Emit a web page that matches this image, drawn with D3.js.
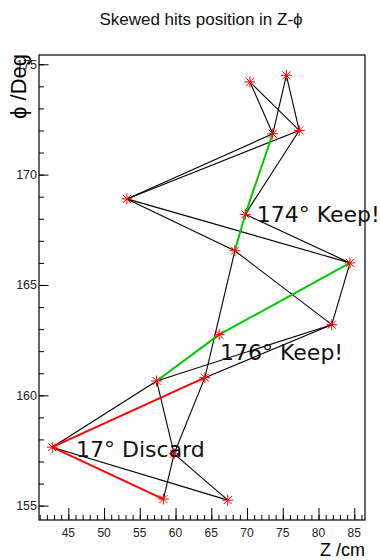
<!DOCTYPE html>
<html>
<head>
<meta charset="utf-8">
<script src="https://cdn.jsdelivr.net/npm/d3@7"></script>
<style>
  body { margin: 0; background: #fff; }
  text { font-family: "Liberation Sans", Arial, sans-serif; }
  .note { font-family: "DejaVu Sans", sans-serif; }
</style>
</head>
<body>
<div id="chart"></div>
<script>
// Hit positions (Z in cm, phi in degrees)
var zHits   = [70.4, 75.5, 73.6, 77.3, 69.75, 53.2, 68.3, 84.4, 81.85, 66.1, 64.1, 57.35, 42.75, 59.8, 58.3, 67.3];
var phiHits = [174.2, 174.5, 171.85, 172.0, 168.2, 168.9, 166.55, 166.0, 163.2, 162.75, 160.8, 160.65, 157.65, 157.35, 155.3, 155.25];

// which hits are joined (index pairs into the arrays above)
var otherPairs = [[0, 2], [0, 3], [1, 2], [1, 3], [2, 5], [3, 5], [3, 4], [4, 7], [5, 7], [5, 6],
                  [6, 8], [6, 10], [7, 8], [8, 10], [8, 11], [11, 12], [11, 13], [10, 13],
                  [13, 14], [13, 15], [12, 15]];
var keepPairs = [[2, 4], [4, 6], [7, 9], [9, 11]];
var discardPairs = [[10, 12], [12, 14]];

// angle notes
var noteText = ['174\u00b0 Keep!', '176\u00b0 Keep!', '17\u00b0 Discard'];
var noteZ    = [71.35, 66.22, 46.08];
var notePhi  = [167.87, 161.6, 157.22];

var xMajor = [45, 50, 55, 60, 65, 70, 75, 80, 85];
var yMajor = [155, 160, 165, 170, 175];

// Constants for sizing
var width = 380;
var height = 560;
var frame = { left: 39, right: 365, top: 55, bottom: 520 };

var x = d3.scaleLinear().domain([40.9, 86.5]).range([frame.left, frame.right]);
var y = d3.scaleLinear().domain([154.35, 175.42]).range([frame.bottom, frame.top]);

var svg = d3.select('#chart')
  .append('svg')
  .attr('width', width)
  .attr('height', height);

// title
svg.append('text')
  .attr('x', 201)
  .attr('y', 25)
  .attr('text-anchor', 'middle')
  .attr('font-size', 17)
  .attr('fill', '#111')
  .text('Skewed hits position in Z-\u03d5');

// axes, ticks drawn inward like ROOT does
var xAxis = d3.axisTop(x)
  .tickValues(d3.range(41, 87))
  .tickSize(5)
  .tickFormat('');
svg.append('g')
  .attr('transform', 'translate(0,' + frame.bottom + ')')
  .call(xAxis);

svg.append('g')
  .attr('transform', 'translate(0,' + frame.bottom + ')')
  .call(d3.axisTop(x).tickValues(xMajor).tickSize(12).tickFormat(''));

svg.append('g')
  .attr('transform', 'translate(' + frame.left + ',0)')
  .call(d3.axisRight(y).tickValues(d3.range(155, 176)).tickSize(5).tickFormat(''));

svg.append('g')
  .attr('transform', 'translate(' + frame.left + ',0)')
  .call(d3.axisRight(y).tickValues(yMajor).tickSize(9.5).tickFormat(''));

svg.selectAll('.domain').remove();
svg.selectAll('.tick line').attr('stroke', '#000');

// frame
svg.append('rect')
  .attr('x', frame.left)
  .attr('y', frame.top)
  .attr('width', frame.right - frame.left)
  .attr('height', frame.bottom - frame.top)
  .attr('fill', 'none')
  .attr('stroke', '#000')
  .attr('stroke-width', 1.2);

// tick labels
svg.selectAll('.xlab')
  .data(xMajor)
  .enter().append('text')
  .attr('class', 'xlab')
  .attr('x', function (d) { return x(d); })
  .attr('y', 537)
  .attr('text-anchor', 'middle')
  .attr('font-size', 12)
  .attr('fill', '#222')
  .text(function (d) { return d; });

svg.selectAll('.ylab')
  .data(yMajor)
  .enter().append('text')
  .attr('class', 'ylab')
  .attr('x', 37)
  .attr('y', function (d) { return y(d) + 4.5; })
  .attr('text-anchor', 'end')
  .attr('font-size', 12.5)
  .attr('fill', '#222')
  .text(function (d) { return d; });

// axis titles
svg.append('text')
  .attr('x', frame.right)
  .attr('y', 555.5)
  .attr('text-anchor', 'end')
  .attr('font-size', 18)
  .text('Z /cm');

svg.append('text')
  .attr('transform', 'translate(26,54) rotate(-90)')
  .attr('text-anchor', 'end')
  .attr('font-size', 22)
  .text('\u03d5 /Deg');

// segments between hits
function drawPairs(pairs, color, w) {
  svg.append('g').selectAll('line')
    .data(pairs)
    .enter().append('line')
    .attr('x1', function (d) { return x(zHits[d[0]]); })
    .attr('y1', function (d) { return y(phiHits[d[0]]); })
    .attr('x2', function (d) { return x(zHits[d[1]]); })
    .attr('y2', function (d) { return y(phiHits[d[1]]); })
    .attr('stroke', color)
    .attr('stroke-width', w);
}

drawPairs(otherPairs, '#000', 1.1);
drawPairs(keepPairs, '#00c800', 2);
drawPairs(discardPairs, '#ff0000', 2);

// star markers
var star = 'M-5.5,0H5.5M0,-5.5V5.5M-4,-4L4,4M-4,4L4,-4';
svg.append('g').selectAll('path')
  .data(zHits)
  .enter().append('path')
  .attr('transform', function (d, i) { return 'translate(' + x(d) + ',' + y(phiHits[i]) + ')'; })
  .attr('d', star)
  .attr('stroke', '#ff0000')
  .attr('stroke-width', 1)
  .attr('fill', 'none');

// notes
svg.selectAll('.note')
  .data(noteText)
  .enter().append('text')
  .attr('class', 'note')
  .attr('x', function (d, i) { return x(noteZ[i]); })
  .attr('y', function (d, i) { return y(notePhi[i]); })
  .attr('font-size', 22)
  .attr('fill', '#111')
  .text(function (d) { return d; });
</script>
</body>
</html>
